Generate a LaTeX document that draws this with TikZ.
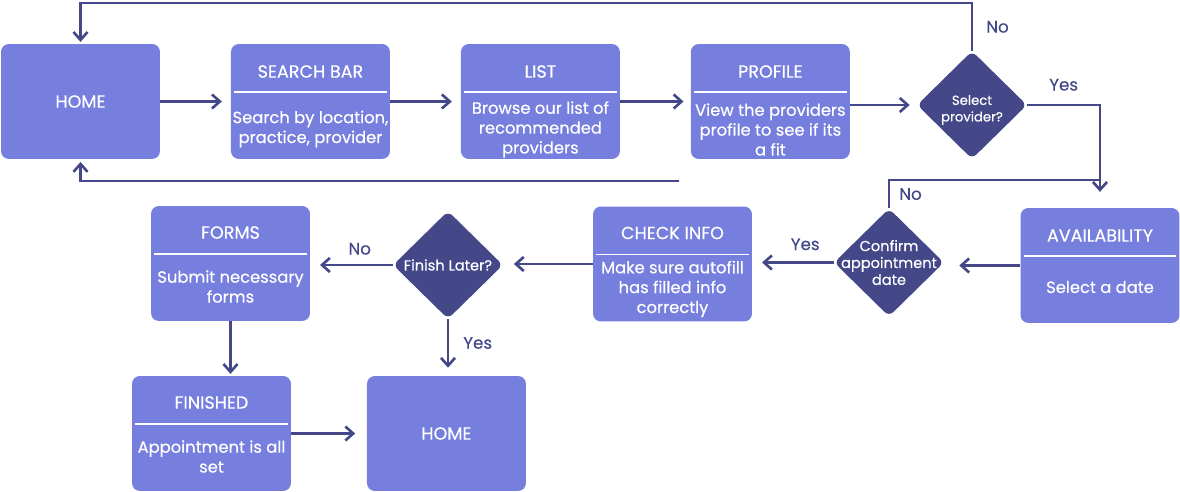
\documentclass[tikz,border=0pt]{standalone}
\usepackage{fontspec}
\setmainfont{Poppins}[FakeBold=0.4]
\usetikzlibrary{shapes,arrows.meta,positioning}

\definecolor{cardblue}{RGB}{118,126,222}
\definecolor{navy}{RGB}{68,72,137}

\tikzset{
  card/.style = {fill=cardblue, text=white, rounded corners=4.5pt, minimum width=3.18cm, minimum height=2.3cm, inner sep=0pt, font=\fontsize{10}{12}\selectfont},
  cardtitle/.style = {text=white, inner sep=0pt, font=\fontsize{10}{12}\selectfont},
  cardtext/.style = {text=white, inner sep=0pt, align=center, font=\fontsize{9.3}{11.3}\selectfont},
  choice/.style = {diamond, fill=navy, rounded corners=3.5pt, minimum width=2.2cm, minimum height=2.16cm, inner sep=0pt},
  choicetext/.style = {text=white, inner sep=0pt, align=center, font=\fontsize{8.3}{9.6}\selectfont},
  flow/.style = {draw=navy, line width=1.5pt, -{Straight Barb[length=4.5pt,width=8pt]}},
  answer/.style = {text=navy, inner sep=0pt, font=\fontsize{9.5}{11}\selectfont},
  divider/.style = {draw=white, line width=0.6pt}
}

\begin{document}
\begin{tikzpicture}[x=0.02cm, y=-0.02cm]%
    \useasboundingbox (0,0) rectangle (1180,492);

    % first row
    \draw node [card] (home) at (80.5,101.5) {HOME};
    \draw node [card, node distance = 4.6cm, right of=home] (search) {};
    \draw node [cardtitle] (searchtitle) at ([yshift=0.6cm]search.center) {SEARCH BAR};
    \draw node [cardtext] (searchtext) at ([yshift=-0.55cm]search.center) {Search by location,\\practice, provider};
    \draw node [card, node distance = 4.6cm, right of=search] (list) {};
    \draw node [cardtitle] (listtitle) at ([yshift=0.6cm]list.center) {LIST};
    \draw node [cardtext] (listtext) at ([yshift=-0.56cm]list.center) {Browse our list of\\recommended\\providers};
    \draw node [card, node distance = 4.6cm, right of=list] (profile) {};
    \draw node [cardtitle] (profiletitle) at ([yshift=0.6cm]profile.center) {PROFILE};
    \draw node [cardtext] (profiletext) at ([yshift=-0.56cm]profile.center) {View the providers\\profile to see if its\\a fit};
    \draw node [choice] (select) at (972,105) {};
    \draw node [choicetext, font=\fontsize{7.5}{9.4}\selectfont] (selecttext) at ([yshift=-0.1cm]select) {Select\\provider?};

    % second row
    \draw node [card] (avail) at (1100,265.5) {};
    \draw node [cardtitle] (availtitle) at ([yshift=0.6cm]avail.center) {AVAILABILITY};
    \draw node [cardtext] (availtext) at ([yshift=-0.43cm]avail.center) {Select a date};
    \draw node [choice] (confirm) at (889,262.5) {};
    \draw node [choicetext] (confirmtext) at (confirm) {Confirm\\appointment\\date};
    \draw node [card] (check) at (672.5,264) {};
    \draw node [cardtitle] (checktitle) at ([yshift=0.62cm]check.center) {CHECK INFO};
    \draw node [cardtext] (checktext) at ([yshift=-0.5cm]check.center) {Make sure autofill\\has filled info\\correctly};
    \draw node [choice] (finish) at (448,265) {};
    \draw node [choicetext] (finishtext) at (finish) {Finish Later?};
    \draw node [card] (forms) at (230.5,263.5) {};
    \draw node [cardtitle] (formstitle) at ([yshift=0.62cm]forms.center) {FORMS};
    \draw node [cardtext] (formstext) at ([yshift=-0.46cm]forms.center) {Submit necessary\\forms};

    % third row
    \draw node [card] (finished) at (211.5,433.5) {};
    \draw node [cardtitle] (finishedtitle) at ([yshift=0.62cm]finished.center) {FINISHED};
    \draw node [cardtext] (finishedtext) at ([yshift=-0.46cm]finished.center) {Appointment is all\\set};
    \draw node [card, node distance = 4.7cm, right of=finished] (home2) {HOME};

    \foreach \card in {search,list,profile,avail,check,forms,finished}
      \draw [divider] ([xshift=2pt, yshift=0.19cm]\card.west) -- ([xshift=-2pt, yshift=0.19cm]\card.east);

    \coordinate (top) at (0,3);
    \coordinate (loopend) at (679,181);
    \coordinate (merge) at (1100,180);

    % arrows
    \draw [flow, shorten >=5pt] (home) -- (search);
    \draw [flow, shorten >=5pt] (search) -- (list);
    \draw [flow, shorten >=4pt] (list) -- (profile);
    \draw [flow, shorten >=4pt] (profile.east |- select) -- (select.west);
    \draw [flow, shorten >=1pt] (select.north) -- node [answer, right=0.26cm] (selectno) {No} (select.north |- top) -| (home.north);
    \draw [flow, shorten >=9pt] (select.east) -- node [answer, above=0.26cm] (selectyes) {Yes} (select.east -| avail.north) -- (avail.north);
    \draw [flow, shorten >=1.5pt] (loopend) -| (home.south);
    \draw [flow, shorten >=8.5pt] (avail.west) -- (avail.west -| confirm.east);
    \draw [draw=navy, line width=1.5pt] (confirm.north) -- node [answer, right=0.18cm] (confirmno) {No} (confirm.north |- merge) -- (merge);
    \draw [flow, shorten >=5.5pt] (confirm.west) -- node [answer, pos=0.35, above=0.22cm] (confirmyes) {Yes} (confirm.west -| check.east);
    \draw [flow, shorten >=6pt] (check.west) -- (check.west -| finish.east);
    \draw [flow, shorten >=5.5pt] (finish.west) -- node [answer, pos=0.4, above=0.18cm] (finishno) {No} (finish.west -| forms.east);
    \draw [flow, shorten >=4.5pt] (finish.south) -- node [answer, pos=0.42, right=0.28cm] (finishyes) {Yes} (home2.north -| finish.south);
    \draw [flow, shorten >=1pt] (forms.south) -- (forms.south |- finished.north);
    \draw [flow, shorten >=6.5pt] (finished) -- (home2);
    %\draw [flow] (home2) -- (finish);
  \end{tikzpicture}
\end{document}
